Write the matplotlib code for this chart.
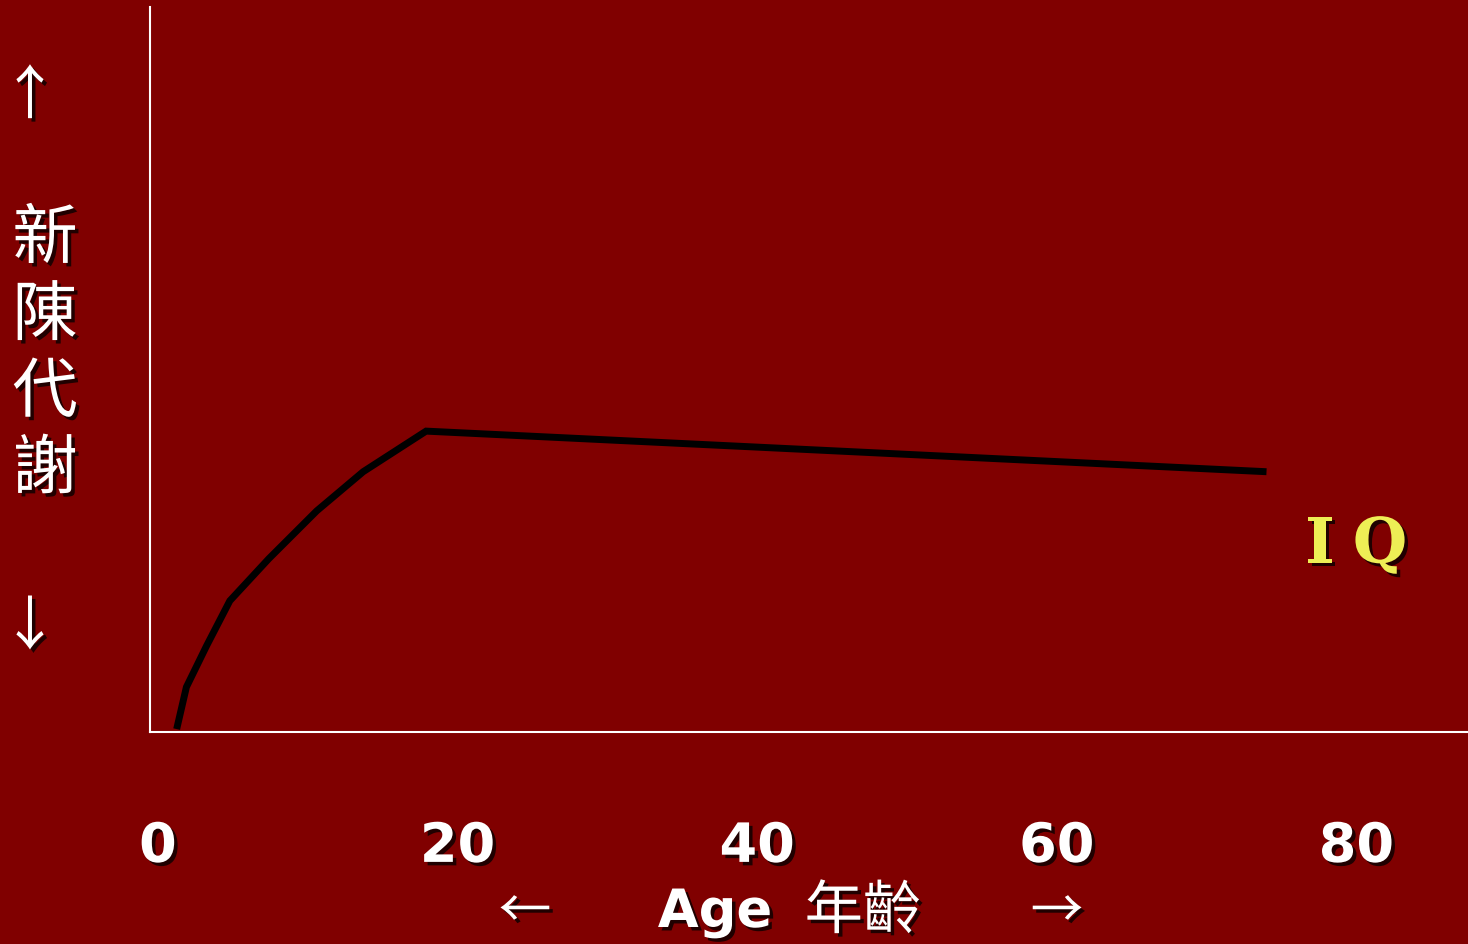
import matplotlib
matplotlib.use("Agg")
import matplotlib.pyplot as plt
import matplotlib.patheffects as pe

# age vs metabolism curve (y in arbitrary units, 0-100)
age = [1.25, 1.9, 3.25, 4.8, 7.4, 10.6, 13.7, 17.9, 74.0]
level = [0.4, 6.2, 11.9, 18.1, 23.9, 30.5, 35.9, 41.5, 35.9]
tick_ages = [0, 20, 40, 60, 80]
tick_labels = ["0", "20", "40", "60", "80"]

bg = "#800000"
shadow = [pe.withSimplePatchShadow(offset=(2.5, -2.5), shadow_rgbFace="black", alpha=0.75)]
cjk = ["Noto Sans CJK TC", "DejaVu Sans"]

fig = plt.figure(figsize=(14.68, 9.45), dpi=100, facecolor=bg)
ax = fig.add_axes([150/1468, 212/945, 1318/1468, 725/945], facecolor=bg)

ax.plot(age, level, color="black", lw=5, solid_joinstyle="miter", solid_capstyle="butt")
ax.set_xlim(-0.53, 87.45)
ax.set_ylim(0, 100)

for s in ["top", "right"]:
    ax.spines[s].set_visible(False)
for s in ["left", "bottom"]:
    ax.spines[s].set_color("white")
    ax.spines[s].set_linewidth(1.5)

ax.set_yticks([])
ax.set_xticks(tick_ages)
ax.set_xticklabels(tick_labels, fontsize=39, fontweight="bold", color="white")
ax.tick_params(axis="x", length=0, pad=64)
for t in ax.get_xticklabels():
    t.set_path_effects(shadow)

# x axis title
fig.text(715/1468, 1 - 913/945, "Age", fontsize=38, fontweight="bold", color="white",
         ha="center", va="center", path_effects=shadow)
fig.text(863/1468, 1 - 913/945, "年齡", fontsize=42, family=cjk, color="white",
         ha="center", va="center", path_effects=shadow)
fig.text(525/1468, 1 - 913/945, "←", fontsize=38, family=cjk, color="white",
         ha="center", va="center", path_effects=shadow)
fig.text(1057/1468, 1 - 913/945, "→", fontsize=38, family=cjk, color="white",
         ha="center", va="center", path_effects=shadow)

# y axis title
fig.text(45/1468, 1 - 356/945, "新\n陳\n代\n謝", fontsize=47, family=cjk, color="white",
         ha="center", va="center", linespacing=1.2, path_effects=shadow)
fig.text(30/1468, 1 - 98/945, "↑", fontsize=42, family=cjk, color="white",
         ha="center", va="center", path_effects=shadow)
fig.text(30/1468, 1 - 629/945, "↓", fontsize=42, family=cjk, color="white",
         ha="center", va="center", path_effects=shadow)

ax.text(1320/1468, 1 - 546/945, "I", transform=fig.transFigure, fontsize=45,
        family="DejaVu Serif", fontweight="bold", color="#eeee55",
        ha="center", va="center", path_effects=shadow)
ax.text(1380/1468, 1 - 546/945, "Q", transform=fig.transFigure, fontsize=45,
        family="DejaVu Serif", fontweight="bold", color="#eeee55",
        ha="center", va="center", path_effects=shadow)

fig.savefig("out.png", dpi=100, facecolor=bg)
